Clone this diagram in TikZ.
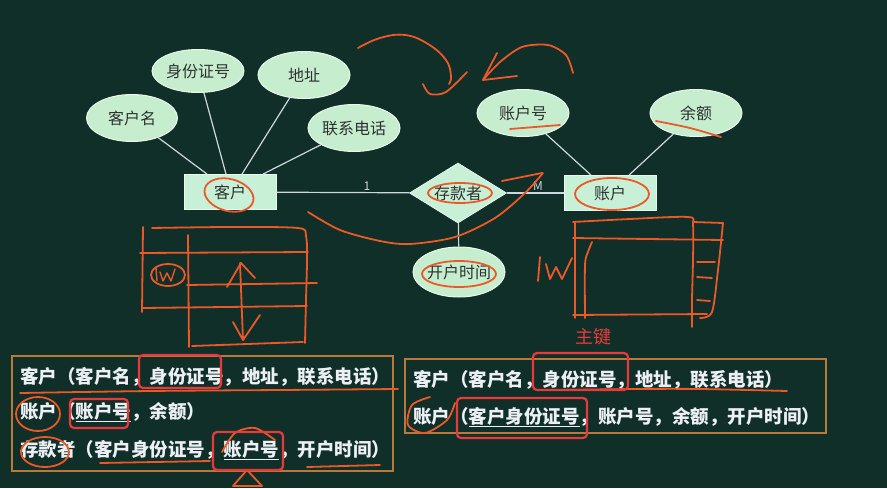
\documentclass[tikz,border=0pt]{standalone}
\usepackage{fontspec}
\setmainfont{Noto Sans CJK SC}
\usetikzlibrary{shapes.geometric,calc}
\definecolor{bg}{RGB}{17,47,41}
\definecolor{attrfill}{RGB}{198,238,206}
\definecolor{entfill}{RGB}{200,240,214}
\definecolor{edge}{RGB}{205,215,222}
\definecolor{ink}{RGB}{45,50,48}
\definecolor{scrib}{RGB}{236,88,40}
\definecolor{keyred}{RGB}{232,58,58}
\definecolor{boxline}{RGB}{185,120,60}
\definecolor{chalk}{RGB}{236,240,244}
\tikzset{
 attr/.style={ellipse, fill=attrfill, draw=white!60!attrfill, line width=1pt, inner sep=0pt, text=ink,
   font=\fontsize{16}{16}\selectfont, minimum width=92pt, minimum height=47pt},
 ent/.style={rectangle, fill=entfill, draw=white!60!entfill, line width=0.8pt, inner sep=0pt, text=ink,
   font=\fontsize{16}{16}\selectfont, minimum width=92pt, minimum height=35pt},
 rel/.style={diamond, aspect=1.6, fill=entfill, draw=white!60!entfill, line width=0.8pt, inner sep=0pt, text=ink,
   font=\fontsize{16}{16}\selectfont, minimum width=97pt, minimum height=60pt},
 link/.style={draw=edge, line width=1.2pt},
 card/.style={text=edge, font=\fontsize{12}{12}\selectfont, inner sep=1pt},
 row/.style={anchor=west, inner sep=0pt, text=chalk, font=\fontsize{18.5}{18.5}\selectfont\bfseries},
 keybox/.style={draw=keyred, line width=2.2pt, rounded corners=4pt},
 scr/.style={draw=scrib, line width=1.8pt, line cap=round, line join=round},
 frame/.style={draw=boxline, line width=1.2pt},
}
\begin{document}
\begin{tikzpicture}[x=1pt,y=-1pt]
\fill[bg] (0,0) rectangle (887,488);
\useasboundingbox (0,0) rectangle (887,488);

% entities, relationship, attributes
\node[ent] (kh) at (230,192) {客户};
\node[ent] (zh) at (610,193) {账户};
\node[rel] (ck) at (458,193) {存款者};
\node[attr, minimum width=91pt] (khm) at (132,118) {客户名};
\node[attr, minimum height=43pt] (sfz) at (198,71) {身份证号};
\node[attr] (dz) at (304,75) {地址};
\node[attr] (lx) at (354,128) {联系电话};
\node[attr] (zhh) at (523,113) {账户号};
\node[attr] (ye) at (696,113) {余额};
\node[attr, minimum height=50pt] (kt) at (459,272) {开户时间};

\draw[link] (khm) -- ([xshift=-23pt]kh.north);
\draw[link] (sfz) -- ([xshift=-4pt]kh.north);
\draw[link] (dz) -- ([xshift=12pt]kh.north);
\draw[link] (lx) -- ([xshift=33pt]kh.north);
\draw[link] (zhh) -- ([xshift=-19pt]zh.north);
\draw[link] (ye) -- ([xshift=19pt]zh.north);
\draw[link] (kh) -- (ck);
\draw[link] (ck) -- (zh);
\draw[link] (ck) -- (kt);
\node[card] (c1) at (367,186) {1};
\node[card] (cm) at (538,186) {M};

% relational schemas
\draw[frame] (12,356) rectangle (393,471);
\draw[frame] (405,359) rectangle (826,433);
\node[row] (l1) at (20,377) {客户（客户名，身份证号，地址，联系电话）};
\node[row] (l2) at (20,412) {账户（\underline{账户号}，余额）};
\node[row] (l3) at (20,450) {存款者（客户身份证号，\underline{账户号}，开户时间）};
\node[row] (r1) at (413,380) {客户（客户名，身份证号，地址，联系电话）};
\node[row] (r2) at (413,417) {账户（\underline{客户身份证号}，账户号，余额，开户时间）};

% handwritten annotations
\draw[scr] plot[smooth, tension=0.7] coordinates {(358,48) (380,38) (405,35) (428,44) (446,60) (451,76) (449,84)};
\draw[scr] plot[smooth] coordinates {(423,84) (430,94) (446,92) (467,72)};
\draw[scr] plot[smooth] coordinates {(573,73) (566,55) (548,45) (522,47) (500,62) (483,80)};
\draw[scr] (497,53) -- (483,80) -- (517,76);
\draw[scr, rotate around={-15:(229,195)}] (229,195) ellipse [x radius=25pt, y radius=16pt];
\draw[scr] (460,193) ellipse [x radius=32pt, y radius=10pt];
\draw[scr] (612,194) ellipse [x radius=37pt, y radius=16pt];
\draw[scr] (459,274) ellipse [x radius=37pt, y radius=13pt];
\draw[scr] plot[smooth] coordinates {(510,129) (535,127) (560,125)};
\draw[scr] plot[smooth] coordinates {(656,121) (690,128) (721,137)};
\draw[scr] plot[smooth] coordinates {(308,212) (340,230) (380,241) (410,244) (455,237) (495,218) (525,193) (543,173)};
\draw[scr] (502,181) -- (542,173);
% left table sketch
\draw[scr] plot[smooth] coordinates {(152,228) (230,227) (298,228) (306,236) (307,260) (306,300) (305,343)};
\draw[scr] (143,227) -- (142,312);
\draw[scr] (140,253) -- (308,252);
\draw[scr] (187,285) -- (317,283);
\draw[scr] (143,308) -- (307,306);
\draw[scr] (188,235) -- (189,347);
\draw[scr] (192,346) -- (303,342);
\draw[scr] (168,275) ellipse [x radius=17pt, y radius=11pt];
\draw[scr, line width=1.4pt] (156,268) -- (157,281);
\draw[scr, line width=1.4pt] (160,272) -- (163,281) -- (167,273) -- (171,281) -- (175,269);
\draw[scr] (240,263) -- (243,340);
\draw[scr] (227,287) -- (241,263) -- (255,278);
\draw[scr] (233,322) -- (243,340) -- (260,315);
% right table sketch
\draw[scr] plot[smooth] coordinates {(573,222) (630,219) (688,217) (693,225) (693,260) (692,300) (692,327)};
\draw[scr] (575,222) -- (575,318);
\draw[scr] (573,238) -- (723,240);
\draw[scr] plot[smooth] coordinates {(592,242) (588,252) (585,265) (585,318)};
\draw[scr] (573,315) -- (707,314);
\draw[scr] (693,222) -- (723,223);
\draw[scr] plot[smooth] coordinates {(723,223) (718,270) (712,312) (700,318)};
\draw[scr] (697,262) -- (715,262);
\draw[scr] (697,277) -- (712,278);
\draw[scr] (697,300) -- (710,301);
\draw[scr] (540,257) -- (538,281);
\draw[scr] (546,264) -- (550,279) -- (556,267) -- (562,279) -- (572,258);
% schema annotations
\draw[scr] plot[smooth] coordinates {(20,393) (150,391) (280,390) (398,389)};
\draw[scr] (38,414) ellipse [x radius=22pt, y radius=17pt];
\draw[scr] (45,452) ellipse [x radius=24pt, y radius=15pt];
\draw[scr] plot[smooth] coordinates {(222,452) (235,433) (255,428) (275,440)};
\draw[scr] (233,486) -- (247,470) -- (262,486) -- cycle;
\draw[scr] (100,463) -- (210,461);
\draw[scr] (307,467) -- (380,465);
\draw[scr] plot[smooth] coordinates {(560,390) (633,389) (700,389) (787,391)};
\draw[scr] plot[smooth] coordinates {(455,403) (447,420) (425,433) (408,425) (412,405) (430,397)};

% primary key boxes
\draw[keybox] (139,355) rectangle (221,388);
\draw[keybox] (70,399) rectangle (128,428);
\draw[keybox] (213,432) rectangle (283,470);
\draw[keybox] (533,353) rectangle (628,390);
\draw[keybox] (457,398) rectangle (587,438);
\node[text=keyred, font=\fontsize{18}{18}\selectfont] (pk) at (593,337) {主键};
\end{tikzpicture}
\end{document}
